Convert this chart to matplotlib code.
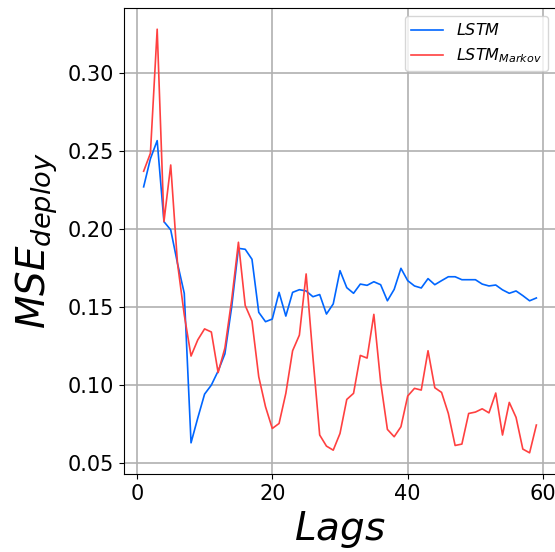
import matplotlib
matplotlib.use("Agg")
import matplotlib.pyplot as plt

lags = list(range(1, 60))
lstm = [0.227, 0.245, 0.2566, 0.2047, 0.1994, 0.178, 0.1588, 0.063, 0.079, 0.0942,
        0.100, 0.109, 0.120, 0.150, 0.1876, 0.187, 0.1806, 0.1466, 0.1406, 0.1423,
        0.1594, 0.1442, 0.1594, 0.1611, 0.1603, 0.1566, 0.158, 0.1455, 0.152, 0.1733,
        0.1624, 0.1588, 0.1647, 0.1639, 0.1662, 0.1643, 0.154, 0.1613, 0.1748, 0.1669,
        0.1635, 0.1622, 0.1682, 0.1643, 0.1669, 0.1694, 0.1694, 0.1675, 0.1675, 0.1675,
        0.1647, 0.1635, 0.1641, 0.161, 0.1588, 0.1603, 0.1573, 0.154, 0.1558]
lstm_markov = [0.237, 0.2485, 0.328, 0.2047, 0.241, 0.178, 0.145, 0.1186, 0.129, 0.136,
               0.134, 0.108, 0.1237, 0.1545, 0.1915, 0.151, 0.141, 0.1053, 0.0861, 0.0722,
               0.0754, 0.0947, 0.122, 0.132, 0.1712, 0.118, 0.068, 0.0609, 0.0583, 0.069,
               0.0908, 0.0947, 0.119, 0.1173, 0.1453, 0.102, 0.0716, 0.0669, 0.0733, 0.093,
               0.0979, 0.0968, 0.122, 0.0983, 0.0953, 0.0818, 0.0613, 0.0622, 0.0818, 0.0827,
               0.0848, 0.0822, 0.0949, 0.068, 0.0889, 0.0793, 0.059, 0.0566, 0.0744]

W, H = 555, 552
fig = plt.figure(figsize=(W / 100, H / 100), dpi=100)
ax = fig.add_axes([124 / W, (H - 474) / H, (556 - 124) / W, (474 - 8) / H])

ax.plot(lags, lstm, color="#0066ff", lw=1.2, label="$LSTM$")
ax.plot(lags, lstm_markov, color="#ff4040", lw=1.2, label="$LSTM_{Markov}$")

ax.grid(True, color="#b0b0b0", lw=1.2)
ax.set_axisbelow(True)
ax.set_xticks([0, 20, 40, 60])
ax.set_yticks([0.05, 0.10, 0.15, 0.20, 0.25, 0.30])
ax.set_yticklabels(["0.05", "0.10", "0.15", "0.20", "0.25", "0.30"])
ax.tick_params(labelsize=15)
ax.set_xlabel("$Lags$", fontsize=28, labelpad=4)
ax.set_ylabel("$MSE_{deploy}$", fontsize=28, labelpad=6)
ax.legend(loc="upper right", fontsize=11.5)

fig.savefig("out.png", dpi=100)
